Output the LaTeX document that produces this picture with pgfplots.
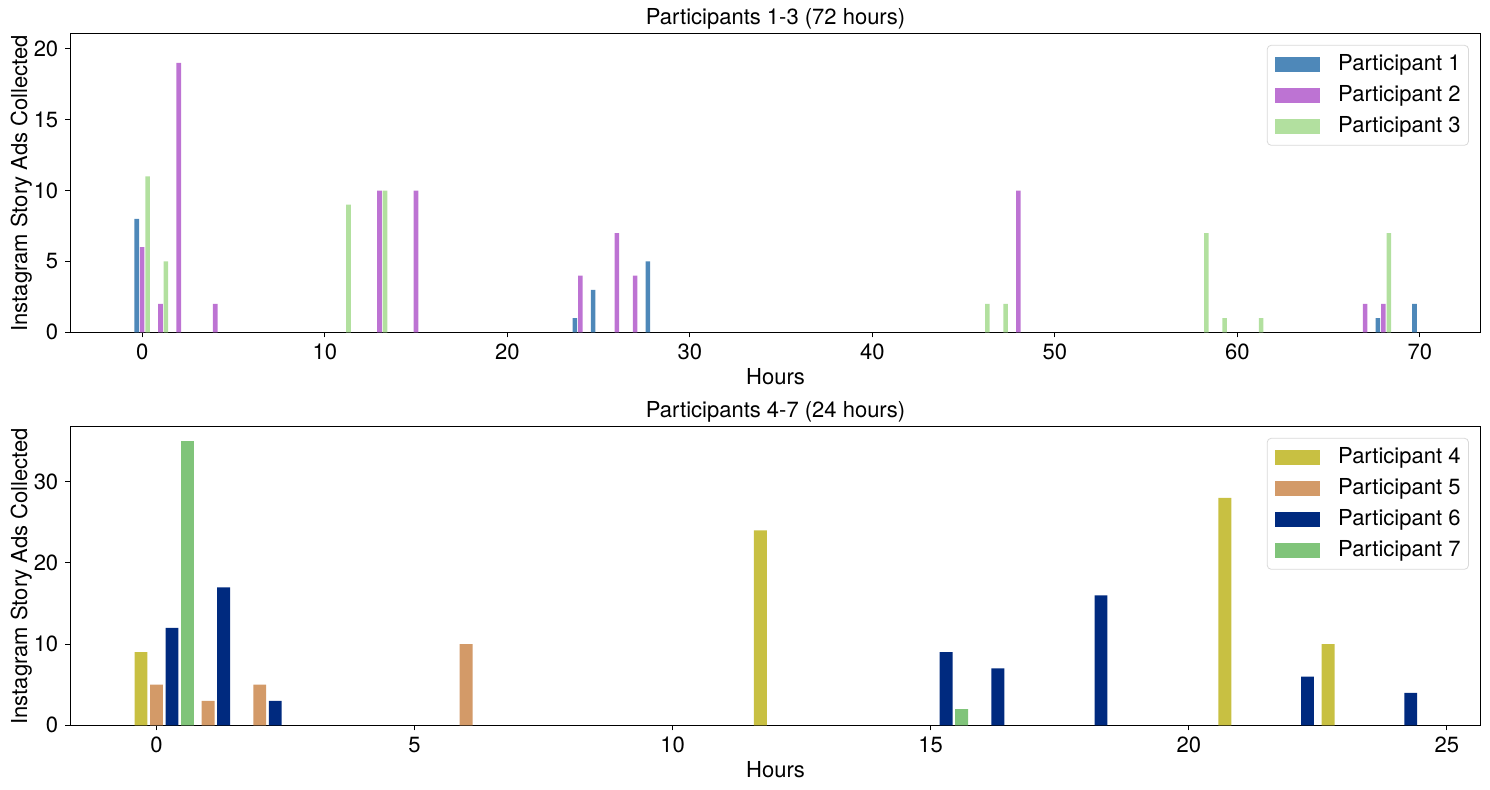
\documentclass[border=0pt]{standalone}
\usepackage{fontspec}
\setmainfont{TeX Gyre Heros}
\usepackage{pgfplots}
\pgfplotsset{compat=1.18}
\definecolor{pone}{HTML}{4E88B9}
\definecolor{ptwo}{HTML}{BD73D3}
\definecolor{pthree}{HTML}{B2E09F}
\definecolor{pfour}{HTML}{C8C042}
\definecolor{pfive}{HTML}{D39A68}
\definecolor{psix}{HTML}{002A7F}
\definecolor{pseven}{HTML}{80C47A}
\pgfplotsset{
  mylegend/.style={legend image code/.code={\fill[##1,draw=none,sharp corners] (0pt,-3.75pt) rectangle (22.5pt,3.75pt);}},
  mybar/.style 2 args={ybar, bar width=0.25, bar shift=#2, fill=#1, draw=none, mylegend},
  mystyle/.style={
    scale only axis, width=705.3pt, height=149.2pt,
    tick align=outside, major tick length=2.5pt,
    tick pos=left,
    axis line style={line width=0.55pt},
    every tick/.style={line width=0.55pt, black},
    /pgf/number format/assume math mode=true,
    ticklabel style={font=\fontsize{11}{13}\selectfont},
    label style={font=\fontsize{11}{13}\selectfont},
    every axis title/.style={at={(0.5,1)}, anchor=south, yshift=-1pt, font=\fontsize{11}{13}\selectfont},
    xlabel style={yshift=3pt},
    ylabel style={yshift=-6pt},
    xlabel=Hours, ylabel={Instagram Story Ads Collected},
    ymin=0,
    legend style={at={(1,1)}, xshift=-6pt, yshift=-5.5pt, anchor=north east,
      draw=black!15, rounded corners=2pt, font=\fontsize{11}{13}\selectfont,
      inner xsep=4pt, inner ysep=4.5pt, row sep=5.5pt,
      nodes={inner sep=0pt, text height=8pt, text depth=2pt},
      /tikz/every odd column/.style={column sep=9pt}},
    legend cell align=left,
  }
}
\begin{document}
\begin{tikzpicture}
\path[use as bounding box] (-35.15pt,-228.85pt) rectangle (709.85pt,166.15pt);
\begin{axis}[mystyle, at={(0,0)}, anchor=south west,
  title={Participants 1-3 (72 hours)},
  xmin=-3.94, xmax=73.34, ymax=21.05,
  xtick={0,10,...,70}, ytick={0,5,...,20}]
\addplot[mybar={pone}{-0.3}] coordinates {(0,8) (24,1) (25,3) (28,5) (68,1) (70,2)};
\addlegendentry{Participant 1}
\addplot[mybar={ptwo}{0}] coordinates {(0,6) (1,2) (2,19) (4,2) (13,10) (15,10) (24,4) (26,7) (27,4) (48,10) (67,2) (68,2)};
\addlegendentry{Participant 2}
\addplot[mybar={pthree}{0.3}] coordinates {(0,11) (1,5) (11,9) (13,10) (46,2) (47,2) (58,7) (59,1) (61,1) (68,7)};
\addlegendentry{Participant 3}
\end{axis}
\begin{axis}[mystyle, at={(0,-196.5pt)}, anchor=south west,
  title={Participants 4-7 (24 hours)},
  xmin=-1.67, xmax=25.66, ymax=36.75,
  xtick={0,5,...,25}, ytick={0,10,20,30}]
\addplot[mybar={pfour}{-0.3}] coordinates {(0,9) (12,24) (21,28) (23,10)};
\addlegendentry{Participant 4}
\addplot[mybar={pfive}{0}] coordinates {(0,5) (1,3) (2,5) (6,10)};
\addlegendentry{Participant 5}
\addplot[mybar={psix}{0.3}] coordinates {(0,12) (1,17) (2,3) (15,9) (16,7) (18,16) (22,6) (24,4)};
\addlegendentry{Participant 6}
\addplot[mybar={pseven}{0.6}] coordinates {(0,35) (15,2)};
\addlegendentry{Participant 7}
\end{axis}
\end{tikzpicture}
\end{document}
